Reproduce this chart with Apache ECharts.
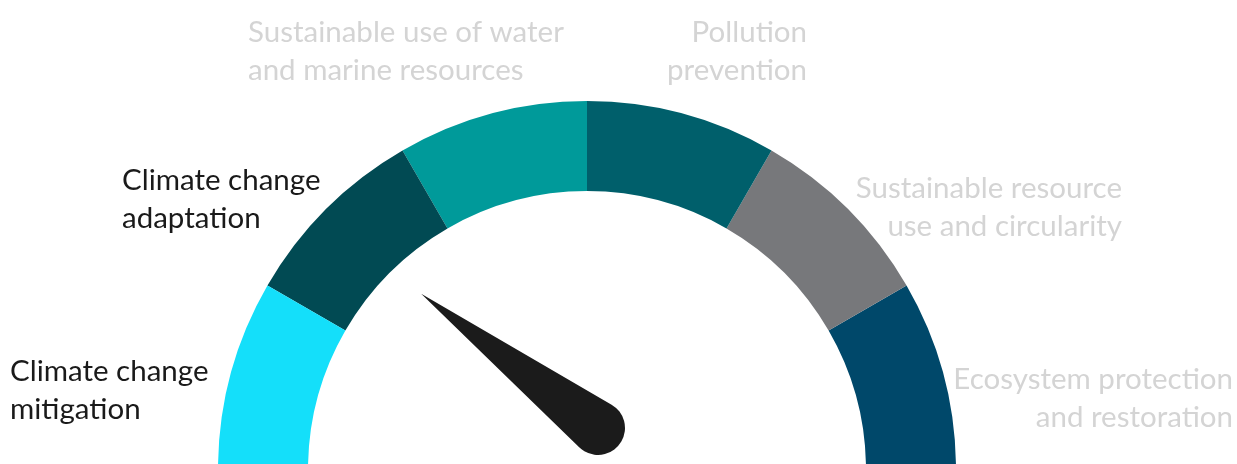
<!DOCTYPE html>
<html><head><meta charset="utf-8">
<script src="https://cdn.jsdelivr.net/npm/echarts@6/dist/echarts.min.js"></script>
<style>html,body{margin:0;padding:0;background:#fff}#c{width:1237px;height:464px}</style>
</head><body><div id="c"></div>
<script>
// Data
const categories = [
  'Climate change\nmitigation',
  'Climate change\nadaptation',
  'Sustainable use of water\nand marine resources',
  'Pollution\nprevention',
  'Sustainable resource\nuse and circularity',
  'Ecosystem protection\nand restoration'
];
const segmentEnds = [1, 2, 3, 4, 5, 6];
const highlighted = [true, true, false, false, false, false];
const needleValue = [1.24];
const axisMin = 0;
const axisMax = 6;

// Styles
const segmentColors = ['#14DFFA', '#014A53', '#009A9A', '#005F6B', '#77787B', '#00486A'];
const labelPos = [
  { x: 10,   y: 390, align: 'left' },
  { x: 122,  y: 199, align: 'left' },
  { x: 248,  y: 51,  align: 'left' },
  { x: 807,  y: 51,  align: 'right' },
  { x: 1122, y: 207, align: 'right' },
  { x: 1233, y: 398, align: 'right' }
];
const needlePath = 'path://M27 0 L53.8 218.7 A27 27 0 1 1 0.2 218.7 Z';

const chart = echarts.init(document.getElementById('c'), null, { renderer: 'canvas' });
const hidden = { show: false };
chart.setOption({
  animation: false,
  backgroundColor: '#ffffff',
  series: [
    {
      type: 'gauge',
      center: [587, 470],
      radius: 369,
      startAngle: 180,
      endAngle: 0,
      min: axisMin,
      max: axisMax,
      splitNumber: 6,
      axisLine: {
        lineStyle: {
          width: 90,
          color: segmentEnds.map((e, i) => [(e - axisMin) / (axisMax - axisMin), segmentColors[i]])
        }
      },
      splitLine: hidden, axisTick: hidden, axisLabel: hidden,
      pointer: hidden, anchor: hidden, title: hidden, detail: hidden,
      data: [{ value: axisMin }]
    },
    {
      type: 'gauge',
      center: [619.5, 444.3],
      radius: 249,
      startAngle: 180,
      endAngle: 0,
      min: axisMin,
      max: axisMax,
      axisLine: hidden, splitLine: hidden, axisTick: hidden, axisLabel: hidden,
      anchor: hidden, title: hidden, detail: hidden, progress: hidden,
      pointer: {
        show: true,
        icon: needlePath,
        length: '100%',
        width: 54,
        itemStyle: { color: '#1b1b1b' }
      },
      data: needleValue.map(v => ({ value: v }))
    }
  ],
  graphic: categories.map((t, i) => ({
    type: 'text',
    x: labelPos[i].x,
    y: labelPos[i].y,
    style: {
      text: t,
      fill: highlighted[i] ? '#1a1a1a' : '#d4d4d4',
      fontSize: 29.5,
      fontFamily: 'Lato',
      lineHeight: 38,
      align: labelPos[i].align,
      verticalAlign: 'middle'
    }
  }))
});
</script></body></html>
